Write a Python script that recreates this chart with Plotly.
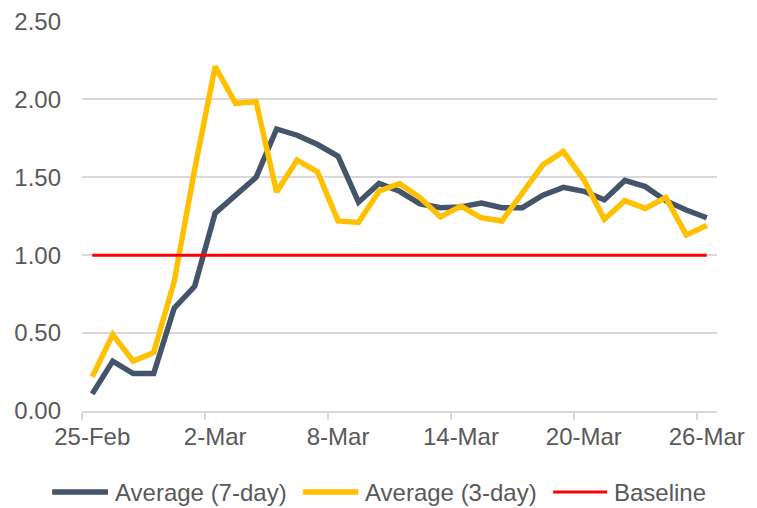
import plotly.graph_objects as go

# ---- data ----
dates = ["25-Feb", "26-Feb", "27-Feb", "28-Feb", "29-Feb"] + [f"{d}-Mar" for d in range(1, 27)]
avg_7day = [0.11, 0.32, 0.24, 0.24, 0.66, 0.80, 1.27, 1.39, 1.50, 1.81,
            1.77, 1.71, 1.635, 1.34, 1.46, 1.41, 1.33, 1.305, 1.31, 1.335,
            1.305, 1.305, 1.385, 1.435, 1.41, 1.355, 1.48, 1.44, 1.35, 1.29, 1.24]
avg_3day = [0.22, 0.49, 0.32, 0.375, 0.83, 1.55, 2.21, 1.975, 1.985, 1.405,
            1.61, 1.535, 1.22, 1.21, 1.41, 1.46, 1.37, 1.245, 1.315, 1.24,
            1.22, 1.40, 1.58, 1.665, 1.485, 1.23, 1.35, 1.30, 1.37, 1.13, 1.19]
baseline = [1.0] * len(dates)
series_names = ["Average (7-day)", "Average (3-day)", "Baseline"]
x_tick_labels = ["25-Feb", "2-Mar", "8-Mar", "14-Mar", "20-Mar", "26-Mar"]
y_tick_values = [0, 0.5, 1.0, 1.5, 2.0, 2.5]

x_idx = list(range(len(dates)))
tick_pos = [dates.index(t) for t in x_tick_labels]
boundary_ticks = [p - 0.5 for p in tick_pos]

FONT = "Liberation Sans, Arial, sans-serif"
TXT = "#595959"
GRID = "#d9d9d9"
colors = ["#44546A", "#FFC000", "#FF0000"]
widths = [5.5, 5.5, 3]

fig = go.Figure()
for name, vals, c, w in zip(series_names, [avg_7day, avg_3day, baseline], colors, widths):
    fig.add_trace(go.Scatter(x=x_idx, y=vals, mode="lines", name=name,
                             line=dict(color=c, width=w), showlegend=False))

# legend drawn below the plot (paper coordinates), Excel-style long swatches
legend_y = -0.208
legend_items = [(-0.047, 0.041, 0.049), (0.348, 0.435, 0.443), (0.742, 0.827, 0.835)]
for (x0, x1, xt), name, c, w in zip(legend_items, series_names, colors, widths):
    fig.add_shape(type="line", xref="paper", yref="paper", x0=x0, x1=x1,
                  y0=legend_y, y1=legend_y, line=dict(color=c, width=w))
    fig.add_annotation(xref="paper", yref="paper", x=xt, y=legend_y, text=name,
                       showarrow=False, xanchor="left", yanchor="middle",
                       font=dict(family=FONT, size=24, color=TXT))

# page body has an 8px margin, so the figure is sized to fit inside the window
fig.update_layout(
    width=749, height=500,
    margin=dict(l=74, r=40, t=13, b=97),
    paper_bgcolor="white", plot_bgcolor="white",
    font=dict(family=FONT, size=24, color=TXT),
    showlegend=False,
    xaxis=dict(range=[-0.5, len(dates) - 0.5], showgrid=False, zeroline=False,
               tickmode="array", tickvals=tick_pos, ticktext=x_tick_labels,
               ticks="", showline=True, linecolor=GRID, linewidth=1.5,
               ticklabelstandoff=3, automargin=False, ticklabeloverflow="allow",
               minor=dict(tickmode="array", tickvals=boundary_ticks, ticks="outside",
                          ticklen=7, tickcolor=GRID, tickwidth=1.5, showgrid=False),
               fixedrange=True),
    yaxis=dict(range=[0, 2.503], tickmode="array", tickvals=y_tick_values,
               tickformat=".2f", showgrid=True, gridcolor=GRID, gridwidth=1.5,
               zeroline=False, showline=False, ticks="", ticklabelstandoff=20,
               automargin=False, ticklabeloverflow="allow",
               fixedrange=True),
)

fig.write_html("out.html")
